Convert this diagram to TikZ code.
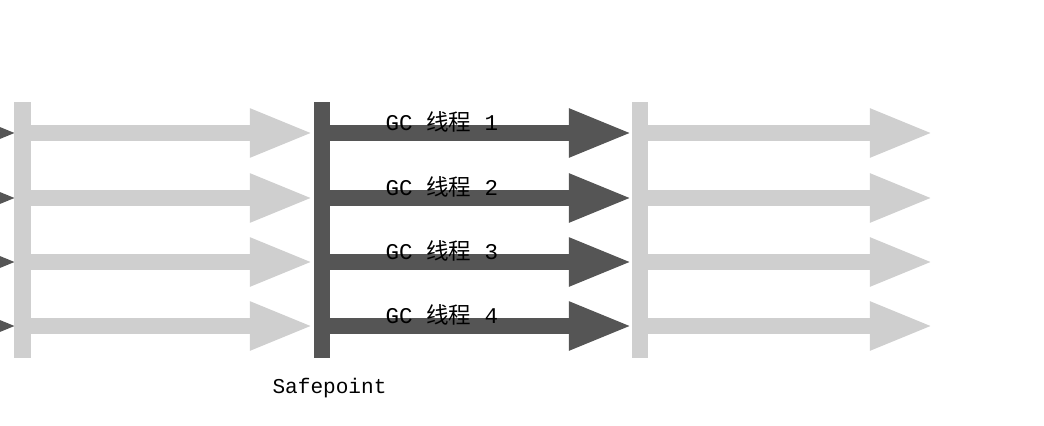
\documentclass[tikz,border=0pt]{standalone}
\usepackage{fontspec}
\setmonofont{Liberation Mono}
\newfontfamily\cjk{Noto Sans CJK SC}
\usepackage{tikz}
\usetikzlibrary{arrows.meta, positioning}
\definecolor{barlight}{RGB}{207,207,207}
\definecolor{bardark}{RGB}{85,85,85}
\tikzstyle{lightbar}=[fill=barlight, minimum width=4mm, minimum height=63.75mm, inner sep=0pt]
\tikzstyle{darkbar}=[lightbar, fill=bardark]
\tikzstyle{lightarrow}=[draw=barlight, line width=4.2mm, -{Triangle[length=16mm, width=11mm]}]
\tikzstyle{darkarrow}=[lightarrow, draw=bardark]
\tikzstyle{thread}=[pos=.37, yshift=8pt, font=\fontsize{16}{16}\selectfont, inner sep=0pt]

\begin{document}
\begin{tikzpicture}[x=0.025cm, y=-0.025cm]
  \clip (0,0) rectangle (1044,426);
  % tips of the threads coming in from the left
  \coordinate (s1) at (-80,133); \coordinate (l1) at (18,133);
  \coordinate (s2) at (-80,198); \coordinate (l2) at (18,198);
  \coordinate (s3) at (-80,262); \coordinate (l3) at (18,262);
  \coordinate (s4) at (-80,326); \coordinate (l4) at (18,326);
  \draw[darkarrow] (s1) -- (l1);
  \draw[darkarrow] (s2) -- (l2);
  \draw[darkarrow] (s3) -- (l3);
  \draw[darkarrow] (s4) -- (l4);
  % bars
  \node[lightbar] (b0) at (22.5,230) {};
  \node[darkbar] (b1) at (321.5,230) {};
  \node[lightbar] (b2) at (640,230) {};
  \node[font=\fontsize{15}{15}\selectfont\ttfamily, inner sep=0pt] (sp) [below=5mm of b1, xshift=2mm] {Safepoint};
  % arrow tips
  \coordinate (m1) at (314,133); \coordinate (d1) at (633,133); \coordinate (r1) at (934,133);
  \coordinate (m2) at (314,198); \coordinate (d2) at (633,198); \coordinate (r2) at (934,198);
  \coordinate (m3) at (314,262); \coordinate (d3) at (633,262); \coordinate (r3) at (934,262);
  \coordinate (m4) at (314,326); \coordinate (d4) at (633,326); \coordinate (r4) at (934,326);
  \draw[lightarrow] (b0.east |- m1) -- (m1);
  \draw[lightarrow] (b0.east |- m2) -- (m2);
  \draw[lightarrow] (b0.east |- m3) -- (m3);
  \draw[lightarrow] (b0.east |- m4) -- (m4);
  \draw[darkarrow] (b1.east |- d1) -- node[thread] {\ttfamily GC {\cjk 线程} 1} (d1);
  \draw[darkarrow] (b1.east |- d2) -- node[thread] {\ttfamily GC {\cjk 线程} 2} (d2);
  \draw[darkarrow] (b1.east |- d3) -- node[thread] {\ttfamily GC {\cjk 线程} 3} (d3);
  \draw[darkarrow] (b1.east |- d4) -- node[thread] {\ttfamily GC {\cjk 线程} 4} (d4);
  \draw[lightarrow] (b2.east |- r1) -- (r1);
  \draw[lightarrow] (b2.east |- r2) -- (r2);
  \draw[lightarrow] (b2.east |- r3) -- (r3);
  \draw[lightarrow] (b2.east |- r4) -- (r4);
\end{tikzpicture}
\end{document}
